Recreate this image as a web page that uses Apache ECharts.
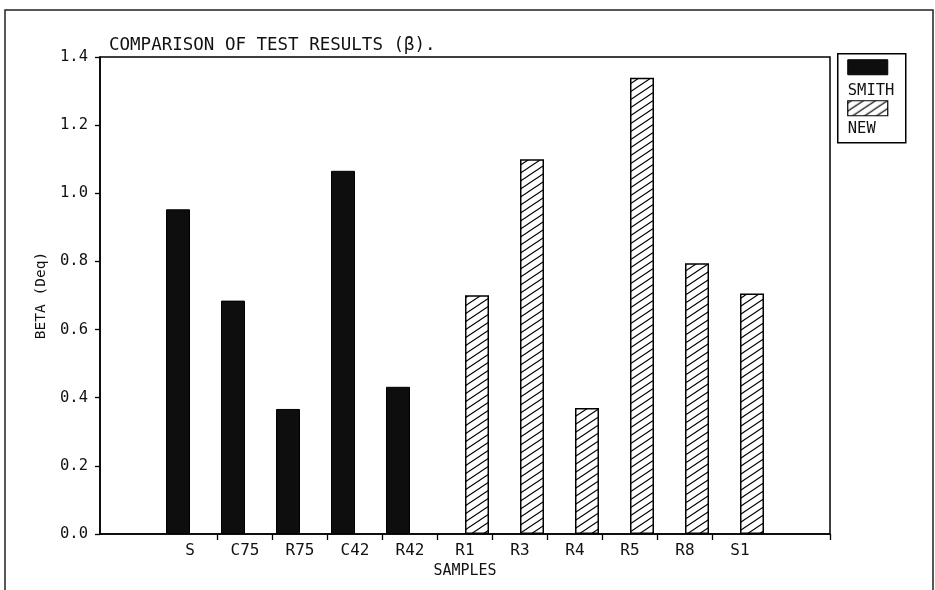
<!DOCTYPE html>
<html>
<head>
<meta charset="utf-8">
<title>Comparison of test results</title>
<script src="https://cdn.jsdelivr.net/npm/echarts@6/dist/echarts.min.js"></script>
<style>
  html, body { margin: 0; padding: 0; background: #fff; }
  #chart { width: 935px; height: 590px; }
</style>
</head>
<body>
<div id="chart"></div>
<script>
// Sample names along the horizontal axis
const categories = ['S', 'C75', 'R75', 'C42', 'R42', 'R1', 'R3', 'R4', 'R5', 'R8', 'S1'];
// BETA (Deq) per sample, Smith method (first five samples)
const smithValues = [0.953, 0.685, 0.367, 1.066, 0.432, null, null, null, null, null, null];
// BETA (Deq) per sample, new method (last six samples)
const newValues = [null, null, null, null, null, 0.701, 1.100, 0.370, 1.339, 0.795, 0.706];
// Vertical axis ticks
const yTicks = [0, 0.2, 0.4, 0.6, 0.8, 1.0, 1.2, 1.4];

const FONT = '"DejaVu Sans Mono", monospace';
const INK = '#111';

// Diagonal "////" hatch tile used for the NEW bars and its legend swatch
function hatchTile() {
  const W = 12, H = 8;
  const c = document.createElement('canvas');
  c.width = W; c.height = H;
  const ctx = c.getContext('2d');
  ctx.fillStyle = '#fff';
  ctx.fillRect(0, 0, W, H);
  ctx.strokeStyle = '#000';
  ctx.lineWidth = 1.1;
  for (let i = -1; i <= 1; i++) {
    for (let j = -1; j <= 1; j++) {
      ctx.beginPath();
      ctx.moveTo(i * W, j * H + H);
      ctx.lineTo(i * W + W, j * H);
      ctx.stroke();
    }
  }
  return c;
}
const hatch = { image: hatchTile(), repeat: 'repeat' };

// Category index -> axis position; extra room on each side of the samples
const pad = 90 / 55;
const xMin = -pad;
const xMax = categories.length - 1 + pad;

const boundaryTicks = categories.slice(1).map((_, i) => i + 0.5);
boundaryTicks.push(xMax);

const chart = echarts.init(document.getElementById('chart'), null, { renderer: 'canvas' });

chart.setOption({
  animation: false,
  backgroundColor: '#fff',
  title: {
    text: 'COMPARISON OF TEST RESULTS (\u03b2).',
    left: 104,
    top: 31,
    textStyle: { fontFamily: FONT, fontSize: 17.5, fontWeight: 'normal', color: INK }
  },
  grid: {
    left: 100, right: 105, top: 57, bottom: 56,
    show: true, borderColor: '#000', borderWidth: 1.5, backgroundColor: 'transparent'
  },
  xAxis: {
    type: 'value',
    min: xMin,
    max: xMax,
    name: 'SAMPLES',
    nameLocation: 'middle',
    nameGap: 24,
    nameTextStyle: { fontFamily: FONT, fontSize: 15, color: INK },
    splitLine: { show: false },
    axisLine: { show: true, onZero: false, lineStyle: { color: '#000', width: 1.5 } },
    axisTick: { show: true, length: 6, customValues: boundaryTicks, lineStyle: { color: '#000', width: 1.3 } },
    axisLabel: {
      customValues: categories.map((_, i) => i),
      formatter: v => categories[Math.round(v)],
      margin: 9,
      fontFamily: FONT, fontSize: 16, color: INK
    }
  },
  yAxis: {
    type: 'value',
    min: 0,
    max: 1.4,
    interval: 0.2,
    name: 'BETA (Deq)',
    nameLocation: 'middle',
    nameGap: 49,
    nameRotate: 90,
    nameTextStyle: { fontFamily: FONT, fontSize: 14.5, color: INK },
    splitLine: { show: false },
    axisLine: { show: true, onZero: false, lineStyle: { color: '#000', width: 1.5 } },
    axisTick: { show: true, length: 5, lineStyle: { color: '#000', width: 1.3 } },
    axisLabel: {
      customValues: yTicks,
      formatter: v => v.toFixed(1),
      margin: 12,
      fontFamily: FONT, fontSize: 15.5, color: INK
    }
  },
  series: [
    {
      name: 'SMITH',
      type: 'bar',
      barWidth: 24,
      barGap: '0%',
      data: categories.map((_, i) => [i, smithValues[i]]),
      itemStyle: { color: '#0e0e0e', borderColor: '#000', borderWidth: 1 }
    },
    {
      name: 'NEW',
      type: 'bar',
      barWidth: 24,
      barGap: '0%',
      data: categories.map((_, i) => [i, newValues[i]]),
      itemStyle: { color: hatch, borderColor: '#000', borderWidth: 1.5 }
    }
  ],
  graphic: [
    // page frame
    {
      type: 'rect', silent: true,
      shape: { x: 5, y: 10, width: 928, height: 600 },
      style: { fill: 'none', stroke: '#222', lineWidth: 1.5 }
    },
    // legend box with swatches above their names
    {
      type: 'group', left: 837, top: 53,
      children: [
        { type: 'rect', shape: { x: 0, y: 0, width: 68, height: 89 },
          style: { fill: '#fff', stroke: '#000', lineWidth: 1.5 } },
        { type: 'rect', shape: { x: 10, y: 6, width: 40, height: 15 },
          style: { fill: '#0e0e0e', stroke: '#000', lineWidth: 1 } },
        { type: 'text', x: 10, y: 37,
          style: { text: 'SMITH', fontFamily: FONT, fontSize: 15.5, fill: INK, verticalAlign: 'middle' } },
        { type: 'rect', shape: { x: 10, y: 47, width: 40, height: 15 },
          style: { fill: hatch, stroke: '#000', lineWidth: 1.2 } },
        { type: 'text', x: 10, y: 75,
          style: { text: 'NEW', fontFamily: FONT, fontSize: 15.5, fill: INK, verticalAlign: 'middle' } }
      ]
    }
  ]
});
</script>
</body>
</html>
